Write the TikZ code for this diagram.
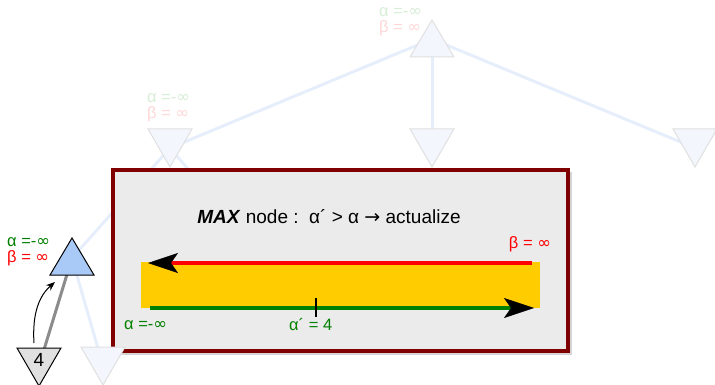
\documentclass[tikz,border=0pt]{standalone}
\usepackage{fontspec}
\setmainfont{Liberation Sans}
\newfontfamily\djfont{DejaVu Sans}
\newcommand\myinf{{\djfont ∞}}
\newcommand\myarr{{\djfont →}}
\usetikzlibrary{arrows.meta}
\definecolor{fadeedge}{HTML}{E6EEFC}
\definecolor{fadefill}{HTML}{F3F6FD}
\definecolor{fadedraw}{HTML}{E0E0E0}
\definecolor{fadegreen}{HTML}{D6EDD6}
\definecolor{fadered}{HTML}{FFD6D6}
\definecolor{boxred}{HTML}{800000}
\definecolor{boxfill}{HTML}{EBEBEB}
\definecolor{gold}{HTML}{FFCC00}
\definecolor{agreen}{HTML}{008000}
\definecolor{bluefill}{HTML}{A9C9F7}
\definecolor{grayfill}{HTML}{E0E0E0}
\definecolor{edgegray}{HTML}{8C8C8C}
\definecolor{shadowgray}{HTML}{D4D4D4}
\begin{document}
\begin{tikzpicture}[x=1pt,y=-1pt,
  fadeline/.style={fadeedge,line width=3pt},
  fadetri/.style={fill=fadefill,draw=fadedraw,line width=1pt},
  realtri/.style={draw=black,line width=1pt},
  lbl/.style={font=\fontsize{16.5}{16.5}\selectfont,inner sep=0pt},
  uptri/.pic={\path[pic actions] (0,-19) -- (22,18) -- (-22,18) -- cycle;},
  downtri/.pic={\path[pic actions] (-22,-19) -- (22,-19) -- (0,19) -- cycle;},
  bigtip/.style={-{Stealth[length=30pt,width=20pt,inset=7pt,color=black,line width=0.5pt]}}]
\useasboundingbox (0,0) rectangle (715,385);
% tree positions
\coordinate (root) at (432,39);
\coordinate (l1) at (170,148);
\coordinate (m1) at (432,148);
\coordinate (r1) at (695,148);
\coordinate (b) at (72,258);
\coordinate (hid) at (268,262);
\coordinate (f) at (39,366);
\coordinate (g) at (103,366);
% faded edges
\draw[fadeline] (root) -- (l1);
\draw[fadeline] (root) -- (m1);
\draw[fadeline] (root) -- (r1);
\draw[fadeline] (l1) -- (b);
\draw[fadeline] (l1) -- (hid);
\draw[fadeline] (b) -- (g);
\draw[edgegray,line width=3pt] (b) -- (f);
% triangles
\pic[fadetri] at (root) {uptri};
\pic[fadetri] at (l1) {downtri};
\pic[fadetri] at (m1) {downtri};
\pic[fadetri] at (r1) {downtri};
\pic[realtri,fill=bluefill] at (72,257) {uptri};
\pic[realtri,fill=grayfill] at (39,367) {downtri};
\node[font=\fontsize{19}{19}\selectfont,inner sep=0pt] (four) at (39,360) {4};
% faded labels
\node[lbl,anchor=west,text=fadegreen] (ra) at (379,12) {α =-\myinf};
\node[lbl,anchor=west,text=fadered] (rb) at (379,28) {β = \myinf};
\node[lbl,anchor=west,text=fadegreen] (la) at (147,98) {α =-\myinf};
\node[lbl,anchor=west,text=fadered] (lb) at (147,114) {β = \myinf};
% max node labels
\node[lbl,anchor=west,text=agreen] (ba) at (7,242) {α =-\myinf};
\node[lbl,anchor=west,text=red] (bb) at (7,258) {β = \myinf};
% curved arrow
\coordinate (as) at (34,343);
\coordinate (ae) at (55,282);
\draw[line width=1pt,-{Stealth[length=9pt,width=7pt]}] (as) .. controls (32,312) and (40,295) .. (ae);
% box
\fill[shadowgray] (115,172) rectangle (572,355);
\node[draw=boxred,fill=boxfill,line width=4pt,minimum width=455pt,minimum height=181pt,inner sep=0pt] (box) at (340.5,260.5) {};
\node[font=\fontsize{19}{19}\selectfont,inner sep=0pt] (title) at (329,217) {\textbf{\textit{MAX}} node :\ \ α´ > α \myarr{} actualize};
\node[fill=gold,minimum width=399pt,minimum height=46pt,inner sep=0pt] (band) at (340.5,285) {};
\coordinate (rs) at (532,263);
\coordinate (re) at (148,263);
\draw[red,line width=3.5pt,bigtip] (rs) -- (re);
\coordinate (gs) at (150,308);
\coordinate (ge) at (534,308);
\draw[agreen,line width=3.5pt,bigtip] (gs) -- (ge);
\coordinate (t1) at (316,298);
\coordinate (t2) at (316,317);
\draw[black,line width=1.5pt] (t1) -- (t2);
\node[lbl,text=red] (beta) at (530,244) {β = \myinf};
\node[lbl,anchor=west,text=agreen] (alpha) at (124,325) {α =-\myinf};
\node[lbl,anchor=west,text=agreen] (alphap) at (289,325) {α´ = 4};
% faded child over box corner
\pic[fadetri] at (g) {downtri};
\end{tikzpicture}
\end{document}
